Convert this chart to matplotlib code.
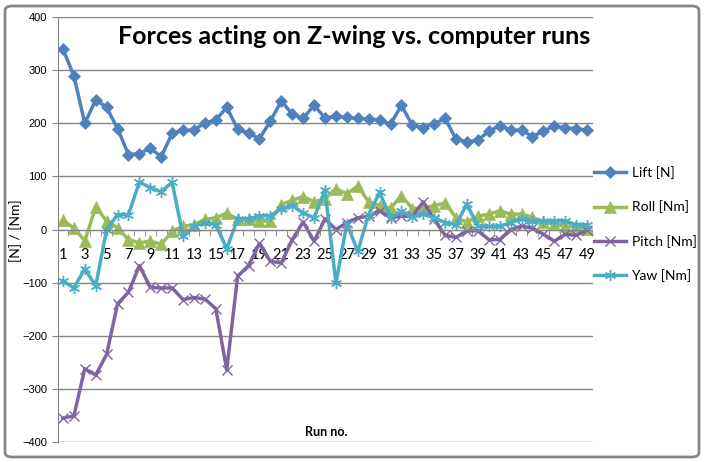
import numpy as np
import matplotlib
matplotlib.use('Agg')
import matplotlib.pyplot as plt
from matplotlib.patches import FancyBboxPatch

# Dados
runs = list(range(1, 50))
lift = [340, 289, 200, 244, 230, 190, 141, 143, 153, 137,
        181, 187, 187, 201, 206, 230, 189, 181, 171, 204,
        242, 217, 209, 234, 210, 213, 211, 209, 208, 206,
        198, 234, 196, 192, 199, 209, 170, 165, 168, 185,
        195, 187, 187, 175, 185, 195, 191, 190, 187]
roll = [17, 3, -21, 42, 16, 3, -19, -25, -22, -28,
        -3, 6, 9, 19, 22, 31, 19, 20, 16, 16,
        47, 55, 62, 52, 58, 77, 67, 82, 52, 45,
        40, 64, 39, 41, 45, 50, 22, 14, 25, 29,
        35, 29, 29, 23, 15, 10, 6, 6, 1]
pitch = [-355, -351, -262, -274, -235, -140, -118, -68, -109, -110,
         -110, -132, -128, -131, -149, -264, -88, -68, -26, -60,
         -63, -19, 14, -22, 20, 0, 13, 22, 25, 35,
         22, 25, 25, 52, 19, -11, -15, -3, -2, -19,
         -19, 0, 6, 3, -9, -22, -9, -11, -1]
yaw = [-97, -110, -74, -106, 0, 28, 28, 89, 79, 71,
       89, -13, 6, 13, 9, -36, 20, 20, 26, 26,
       39, 45, 31, 22, 74, -101, 11, -41, 28, 70,
       22, 34, 23, 29, 22, 13, 9, 48, 6, 6,
       6, 13, 20, 16, 16, 16, 16, 9, 9]

nomes = ['Lift [N]', 'Roll [Nm]', 'Pitch [Nm]', 'Yaw [Nm]']
cores = ['#4F81BD', '#9BBB59', '#8064A2', '#4BACC6']
marcadores = ['D', '^', 'x', (6, 2, 0)]
tamanhos = [6.5, 8, 7, 8]

plt.rcParams['font.family'] = ['Lato', 'DejaVu Sans']

fig = plt.figure(figsize=(7.05, 4.62), dpi=100)
ax = fig.add_axes([57.5 / 705, 20 / 462, 535 / 705, 425 / 462])

for serie, nome, cor, m, s in zip([lift, roll, pitch, yaw], nomes, cores, marcadores, tamanhos):
    ax.plot(runs, serie, color=cor, lw=2.5, marker=m, markersize=s,
            markeredgewidth=1.0 if m in ('x', (6, 2, 0)) else 0.5,
            markeredgecolor=cor, label=nome)

ax.set_xlim(0.5, 49.5)
ax.set_ylim(-400, 400)
ax.set_yticks(np.arange(-400, 401, 100))
ax.yaxis.grid(True, color='#868686', lw=1)
ax.set_axisbelow(True)
ax.tick_params(axis='y', length=4, color='#868686', labelsize=8)
for lbl in ax.get_yticklabels():
    lbl.set_family(['Liberation Sans', 'DejaVu Sans'])

# eixo x cruzando no zero
ax.spines['bottom'].set_position(('data', 0))
ax.spines['bottom'].set_color('#868686')
ax.spines['left'].set_color('#868686')
ax.spines['top'].set_visible(False)
ax.spines['right'].set_visible(False)
ax.set_xticks(runs[::2])
ax.set_xticks(np.arange(0.5, 50, 1), minor=True)
ax.tick_params(axis='x', which='major', length=0, labelsize=10.5, pad=13)
ax.tick_params(axis='x', which='minor', length=4, color='#868686', direction='out')

fig.text(354 / 705, 1 - 37 / 462, 'Forces acting on Z-wing vs. computer runs',
         ha='center', va='center', fontsize=18, fontweight='bold')
fig.text(16 / 705, 0.5, '[N] / [Nm]', rotation=90, ha='center', va='center', fontsize=10)
fig.text(326 / 705, 1 - 432 / 462, 'Run no.', ha='center', va='center',
         fontsize=9, fontweight='bold')

fig.legend(loc='upper left', bbox_to_anchor=(594 / 705, 1 - 166 / 462), frameon=False,
           fontsize=10, labelspacing=1.55, handlelength=2.3, handletextpad=0.4,
           borderaxespad=0, borderpad=0)

borda = FancyBboxPatch((5 / 705, 5 / 462), 694 / 705, 451 / 462,
                       boxstyle='round,pad=0,rounding_size=0.01',
                       transform=fig.transFigure, fill=False,
                       edgecolor='#868686', lw=2)
fig.patches.append(borda)

plt.savefig('out.png', dpi=100)
